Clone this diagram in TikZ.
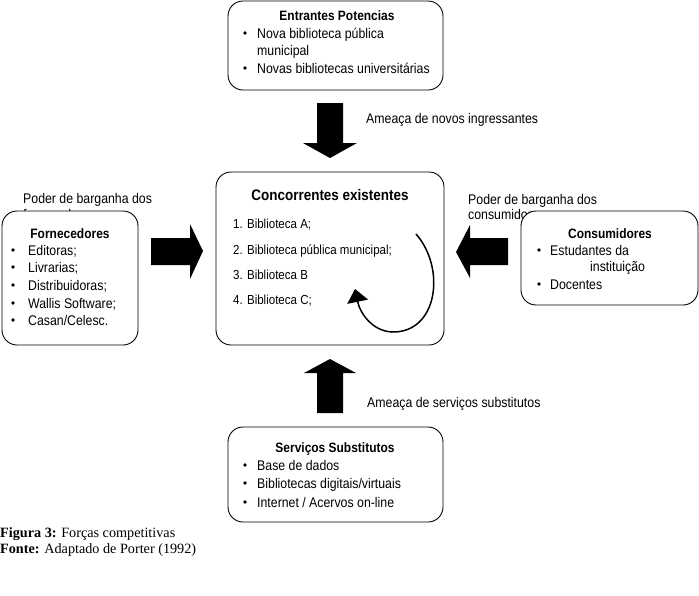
\documentclass[tikz,border=0pt]{standalone}
\usepackage{fontspec}
\setmainfont{Liberation Sans}[FakeStretch=0.88]
\newfontfamily\capfont{Liberation Serif}
\usetikzlibrary{arrows.meta}
\begin{document}
\begin{tikzpicture}[x=1pt,y=-1pt,
  box/.style={draw=black, line width=0.9pt, rounded corners=15pt, fill=white, inner sep=0pt},
  lbl/.style={font=\fontsize{14}{16}\selectfont, anchor=base west, inner sep=0pt},
  itm/.style={font=\fontsize{13.1}{15}\selectfont, anchor=base west, inner sep=0pt},
  hd/.style={font=\bfseries\fontsize{13.6}{16}\selectfont, anchor=base, inner sep=0pt},
  bigarrow/.style={fill=black},
  dot/.style={circle, fill=black, inner sep=0pt, minimum size=3.8pt},
  captxt/.style={font=\capfont\fontsize{14.2}{16}\selectfont, anchor=base west, inner sep=0pt}]
\useasboundingbox (0,0) rectangle (699,595);

% labels partly hidden behind boxes
\node[lbl] (pf1) at (23,203) {Poder de barganha dos};
\node[lbl] (pf2) at (23,219) {fornecedores};
\node[lbl] (pc1) at (468,204) {Poder de barganha dos};
\node[lbl] (pc2) at (468,219) {consumidores};

% ---------- Entrantes Potencias ----------
\path[box] (228,1) rectangle (443,90);
\node[hd] (enth) at (337,20) {Entrantes Potencias};
\node[dot] (ed1) at (245,33) {};
\node[lbl] (et1) at (257,38) {Nova biblioteca pública};
\node[lbl] (et2) at (257,55) {municipal};
\node[dot] (ed2) at (245,68) {};
\node[lbl] (et3) at (257,73) {Novas bibliotecas universitárias};

% down arrow
\fill[bigarrow] (317,103) -- (343,103) -- (343,143) -- (357,143) -- (330,158) -- (303,143) -- (317,143) -- cycle;
\node[lbl] (ameaca1) at (366,123) {Ameaça de novos ingressantes};

% ---------- Concorrentes existentes ----------
\path[box] (216,172) rectangle (444,345);
\node[hd, font=\bfseries\fontsize{15.3}{18}\selectfont] (conch) at (330,200) {Concorrentes existentes};
\node[itm] (c1) at (233,228) {1. Biblioteca A;};
\node[itm] (c2) at (233,254) {2. Biblioteca pública municipal;};
\node[itm] (c3) at (233,279) {3. Biblioteca B};
\node[itm] (c4) at (233,304) {4. Biblioteca C;};
\coordinate (cs) at (416,234);
\coordinate (cb) at (392,332);
\coordinate (ce) at (355,289);
\draw[line width=1.5pt, -{Triangle[length=13pt, width=21pt]}]
  (cs) .. controls (446,268) and (438,333) .. (cb)
       .. controls (372,331) and (360,313) .. (ce);

% ---------- Fornecedores ----------
\path[box] (2,211) rectangle (138,345);
\node[hd] (forh) at (70,238) {Fornecedores};
\foreach \t/\y [count=\i] in {Editoras;/255, Livrarias;/272, Distribuidoras;/290, Wallis Software;/308, {Casan/Celesc.}/325}{
  \node[dot] (fd\i) at (13,\y-5) {};
  \node[lbl] (ft\i) at (28,\y) {\t};
}
% right arrow
\fill[bigarrow] (151,238) -- (190,238) -- (190,224) -- (203,251) -- (190,279) -- (190,265) -- (151,265) -- cycle;

% ---------- Consumidores ----------
\path[box] (521,211) rectangle (698,305);
\node[hd] (conh) at (610,238) {Consumidores};
\node[dot] (cd1) at (539,250) {};
\node[lbl] (ct1) at (550,255) {Estudantes da};
\node[lbl] (ct2) at (590,271) {instituição};
\node[dot] (cd2) at (539,284) {};
\node[lbl] (ct3) at (550,289) {Docentes};
% left arrow
\fill[bigarrow] (508,238) -- (470,238) -- (470,225) -- (456,252) -- (470,278) -- (470,265) -- (508,265) -- cycle;

% ---------- Servicos Substitutos ----------
\fill[bigarrow] (317,413) -- (343,413) -- (343,373) -- (356,373) -- (330,359) -- (304,373) -- (317,373) -- cycle;
\node[lbl] (ameaca2) at (367,407) {Ameaça de serviços substitutos};
\path[box] (228,427) rectangle (443,522);
\node[hd] (servh) at (335,452) {Serviços Substitutos};
\node[dot] (sd1) at (245,465) {};
\node[lbl] (st1) at (257,470) {Base de dados};
\node[dot] (sd2) at (245,483) {};
\node[lbl] (st2) at (257,488) {Bibliotecas digitais/virtuais};
\node[dot] (sd3) at (245,502) {};
\node[lbl] (st3) at (257,507) {Internet / Acervos on-line};

% caption
\node[captxt] (cap1) at (0,537) {\textbf{Figura 3:} Forças competitivas};
\node[captxt] (cap2) at (0,553) {\textbf{Fonte:} Adaptado de Porter (1992)};
\end{tikzpicture}
\end{document}
